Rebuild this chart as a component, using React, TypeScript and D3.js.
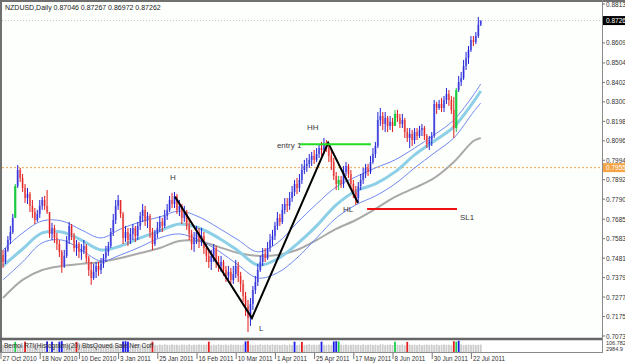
import * as d3 from "d3";

// NZDUSD daily, prices in pips (1e-4)
const firstOpen = 7498;
const closePips = [
  7461, 7524, 7576, 7618, 7692, 7859, 7943, 7901, 7849, 7796, 7817, 7755, 7723, 7681, 7713, 7755,
  7786, 7755, 7723, 7608, 7639, 7587, 7555, 7514, 7440, 7493, 7576, 7650, 7597, 7534, 7555, 7514,
  7524, 7545, 7482, 7419, 7377, 7409, 7440, 7419, 7451, 7482, 7514, 7545, 7618, 7681, 7755, 7786,
  7713, 7587, 7618, 7576, 7608, 7639, 7597, 7650, 7702, 7734, 7681, 7702, 7618, 7555, 7608, 7639,
  7671, 7650, 7702, 7734, 7786, 7765, 7807, 7734, 7755, 7692, 7723, 7650, 7608, 7555, 7587, 7618,
  7576, 7597, 7534, 7493, 7461, 7493, 7534, 7461, 7440, 7461, 7419, 7388, 7409, 7367, 7398, 7440,
  7388, 7346, 7283, 7231, 7168, 7241, 7314, 7356, 7419, 7461, 7503, 7482, 7534, 7576, 7597, 7650,
  7692, 7671, 7734, 7765, 7755, 7796, 7828, 7870, 7849, 7891, 7943, 7964, 7975, 7996, 8017, 7996,
  8027, 8058, 8048, 8079, 8058, 8017, 7985, 7912, 7870, 7891, 7870, 7933, 7964, 7922, 7870, 7828,
  7796, 7859, 7891, 7922, 7954, 7933, 7985, 8027, 8069, 8205, 8226, 8184, 8216, 8174, 8195, 8174,
  8237, 8216, 8184, 8205, 8142, 8111, 8132, 8100, 8142, 8121, 8153, 8163, 8121, 8079, 8100, 8121,
  8289, 8268, 8289, 8268, 8310, 8341, 8310, 8258, 8163, 8362, 8404, 8425, 8488, 8530, 8572, 8624,
  8614, 8645, 8704.6, 8726.2,
];
const highPips = [
  7524, 7534, 7597, 7650, 7713, 7870, 7969, 7954, 7922, 7870, 7849, 7828, 7786, 7744, 7734, 7786,
  7802, 7807, 7838, 7723, 7666, 7655, 7613, 7576, 7524, 7524, 7597, 7671, 7660, 7613, 7576, 7566,
  7555, 7576, 7555, 7493, 7461, 7451, 7461, 7461, 7482, 7503, 7545, 7566, 7639, 7713, 7786, 7812,
  7786, 7723, 7650, 7639, 7639, 7660, 7650, 7671, 7723, 7765, 7755, 7723, 7713, 7639, 7629, 7671,
  7702, 7692, 7734, 7765, 7807, 7823, 7828, 7817, 7786, 7765, 7755, 7734, 7681, 7629, 7618, 7650,
  7639, 7639, 7618, 7555, 7524, 7524, 7555, 7545, 7493, 7493, 7472, 7440, 7440, 7430, 7440, 7472,
  7461, 7409, 7367, 7304, 7262, 7272, 7335, 7388, 7451, 7493, 7534, 7534, 7566, 7608, 7629, 7671,
  7723, 7713, 7765, 7796, 7796, 7828, 7859, 7891, 7901, 7922, 7975, 7996, 8006, 8027, 8038, 8048,
  8058, 8079, 8090, 8111, 8100, 8079, 8048, 8006, 7933, 7912, 7912, 7964, 7985, 7975, 7943, 7891,
  7859, 7880, 7922, 7954, 7975, 7975, 8017, 8058, 8090, 8247, 8268, 8247, 8247, 8226, 8226, 8216,
  8258, 8258, 8237, 8237, 8216, 8163, 8163, 8153, 8163, 8163, 8174, 8184, 8174, 8132, 8121, 8142,
  8310, 8300, 8310, 8321, 8331, 8373, 8362, 8331, 8326, 8373, 8436, 8457, 8520, 8562, 8593, 8645,
  8645, 8666, 8745, 8726.7,
];
const lowPips = [
  7430, 7451, 7514, 7555, 7608, 7692, 7849, 7880, 7828, 7770, 7765, 7723, 7692, 7660, 7671, 7692,
  7734, 7734, 7713, 7587, 7576, 7561, 7524, 7487, 7404, 7430, 7482, 7555, 7576, 7514, 7493, 7482,
  7472, 7503, 7456, 7388, 7341, 7367, 7377, 7388, 7398, 7430, 7461, 7493, 7534, 7597, 7660, 7734,
  7692, 7555, 7566, 7545, 7555, 7576, 7566, 7576, 7629, 7671, 7650, 7639, 7587, 7524, 7545, 7587,
  7618, 7618, 7639, 7681, 7723, 7744, 7744, 7713, 7702, 7660, 7671, 7629, 7576, 7524, 7514, 7555,
  7534, 7545, 7503, 7461, 7430, 7419, 7461, 7430, 7409, 7409, 7388, 7356, 7367, 7346, 7346, 7377,
  7356, 7304, 7252, 7178, 7094, 7126, 7210, 7293, 7335, 7409, 7440, 7461, 7472, 7514, 7545, 7576,
  7629, 7650, 7660, 7713, 7723, 7734, 7776, 7807, 7817, 7828, 7870, 7922, 7933, 7954, 7964, 7975,
  7985, 8006, 8017, 8027, 8038, 7985, 7943, 7891, 7838, 7838, 7849, 7849, 7912, 7901, 7849, 7796,
  7760, 7776, 7838, 7870, 7901, 7912, 7922, 7975, 8006, 8058, 8174, 8153, 8142, 8142, 8153, 8142,
  8174, 8195, 8163, 8163, 8111, 8090, 8058, 8069, 8079, 8100, 8111, 8121, 8100, 8058, 8048, 8069,
  8111, 8237, 8258, 8247, 8247, 8289, 8279, 8237, 8111, 8142, 8352, 8383, 8415, 8467, 8499, 8562,
  8593, 8603, 8635, 8697.2,
];
const greenBars = [5, 137, 160, 185];

// moving averages, read every 8 bars
const maBars = [0, 8, 16, 24, 32, 40, 48, 56, 64, 72, 80, 88, 96, 104, 112, 120, 128, 136, 144, 152, 160, 168, 176, 184, 192, 195];
const upperBand = [7524, 7613, 7676, 7676, 7629, 7587, 7634, 7671, 7697, 7728, 7697, 7639, 7576, 7514, 7561, 7666, 7765, 7854, 7907, 7954, 7996, 8058, 8127, 8205, 8336, 8394];
const midMA = [7440, 7529, 7613, 7618, 7576, 7524, 7545, 7587, 7624, 7660, 7639, 7587, 7519, 7445, 7477, 7555, 7650, 7760, 7833, 7870, 7933, 8022, 8095, 8169, 8300, 8357];
const lowerBand = [7367, 7461, 7561, 7576, 7524, 7466, 7498, 7540, 7587, 7608, 7576, 7519, 7445, 7377, 7404, 7482, 7587, 7692, 7760, 7807, 7870, 7954, 8032, 8111, 8247, 8294];
const slowMA = [7272, 7367, 7419, 7440, 7451, 7461, 7482, 7508, 7534, 7571, 7571, 7540, 7508, 7493, 7498, 7524, 7576, 7634, 7681, 7739, 7802, 7849, 7901, 7985, 8095, 8111];

// lower window histogram
const volume = [
  60, 57, 66, 62, 58, 84, 64, 60, 57, 86, 62, 55, 66, 60, 57, 64,
  58, 63, 88, 61, 86, 57, 62, 86, 90, 60, 58, 62, 57, 63, 84, 60,
  64, 58, 55, 62, 57, 66, 60, 56, 63, 58, 61, 57, 64, 59, 56, 62,
  60, 88, 90, 86, 56, 62, 59, 64, 60, 57, 63, 58, 61, 86, 60, 55,
  62, 58, 64, 60, 57, 63, 59, 61, 56, 62, 60, 58, 64, 57, 61, 59,
  63, 58, 60, 62, 86, 57, 61, 59, 64, 60, 58, 62, 57, 63, 59, 61,
  60, 58, 63, 88, 92, 62, 57, 61, 59, 64, 58, 60, 62, 57, 63, 59,
  61, 58, 60, 62, 57, 63, 59, 86, 58, 62, 84, 57, 60, 64, 59, 61,
  58, 63, 86, 60, 57, 62, 59, 88, 90, 88, 61, 58, 63, 57, 60, 62,
  59, 61, 58, 63, 57, 60, 62, 59, 61, 58, 64, 63, 57, 60, 62, 58,
  86, 61, 58, 63, 57, 84, 62, 59, 61, 58, 63, 57, 60, 62, 59, 61,
  58, 63, 57, 60, 62, 59, 61, 58, 90, 86, 94, 63, 57, 60, 62, 59,
  61, 58, 60, 62,
];
const volRed = [9, 30, 61, 84, 100, 122, 165, 184];
const volBlue = [18, 20, 23, 24, 49, 50, 51, 99, 119, 130, 135, 136, 186];
const volGreen = [5, 137, 160, 185];

// 0.87110 sits under the bid box in the original, so it is left out
const yTicks = [0.8813, 0.8609, 0.8504, 0.8402, 0.83, 0.8198, 0.8096, 0.7994, 0.7892, 0.779, 0.7685, 0.7583, 0.7481, 0.7379, 0.7277, 0.7175, 0.7073];
const dateLabels = ["27 Oct 2010", "18 Nov 2010", "10 Dec 2010", "3 Jan 2011", "25 Jan 2011", "16 Feb 2011", "10 Mar 2011", "1 Apr 2011", "25 Apr 2011", "17 May 2011", "8 Jun 2011", "30 Jun 2011", "22 Jul 2011"];

const trendPoints: [number, number][] = [[70.2, 0.7803], [101.6, 0.7167], [132.7, 0.8085], [144.9, 0.777]];
const entryLevel = { from: 121.2, to: 150.2, price: 0.8078 };
const stopLevel = { from: 148.6, to: 185.3, price: 0.7739 };
const notes = [
  { text: "H", bar: 68.2, price: 0.7891 },
  { text: "HH", bar: 124.1, price: 0.8153 },
  { text: "entry 1", bar: 111.8, price: 0.8058 },
  { text: "HL", bar: 138.8, price: 0.7723 },
  { text: "SL1", bar: 186.5, price: 0.7681 },
  { text: "L", bar: 104.5, price: 0.7099 },
];
const bidPrice = 0.87262;
const markPrice = 0.79553;
const header = "NZDUSD,Daily  0.87046 0.87267 0.86972 0.87262";

const FONT = "Liberation Sans, Arial, sans-serif";

export default function App() {
  const x = d3.scaleLinear().domain([0, 195]).range([3, 480.75]);
  const y = d3.scaleLinear().domain([0.7073, 0.8813]).range([336, 4]);
  const v = d3.scaleLinear().domain([0, 100]).range([352, 340]);

  const bars = closePips.map((c, i) => ({
    i,
    o: (i === 0 ? firstOpen : closePips[i - 1]) / 1e4,
    c: c / 1e4,
    h: highPips[i] / 1e4,
    l: lowPips[i] / 1e4,
  }));

  const maLine = d3
    .line<number>()
    .x((_, k) => x(maBars[k]))
    .y((p) => y(p / 1e4))
    .curve(d3.curveCatmullRom);

  const trend = d3
    .line<[number, number]>()
    .x((d) => x(d[0]))
    .y((d) => y(d[1]));

  const volColor = (i: number) =>
    volGreen.includes(i) ? "#1ccf4a" : volRed.includes(i) ? "#e81c1c" : volBlue.includes(i) ? "#1c1ce8" : "#cccccc";

  return (
    <div style={{ position: "fixed", left: 0, top: 0 }}>
      <svg width={625} height={363} style={{ display: "block", fontFamily: FONT }}>
        <rect x={0} y={0} width={625} height={363} fill="#ffffff" />
        <rect x={2} y={2} width={600} height={336} fill="#fdfffd" />

        {/* bid line and marker level */}
        <line x1={2} x2={602} y1={y(bidPrice)} y2={y(bidPrice)} stroke="#c4c4c4" strokeDasharray="1,2" />
        <line x1={2} x2={602} y1={y(markPrice)} y2={y(markPrice)} stroke="#f3a550" strokeDasharray="2,2" />

        {/* moving averages */}
        <path d={maLine(slowMA) ?? ""} fill="none" stroke="#a9a9a9" strokeWidth={2} />
        <path d={maLine(upperBand) ?? ""} fill="none" stroke="#7088ee" strokeWidth={1} />
        <path d={maLine(lowerBand) ?? ""} fill="none" stroke="#7088ee" strokeWidth={1} />
        <path d={maLine(midMA) ?? ""} fill="none" stroke="#8ccfe6" strokeWidth={3} />

        {/* candles */}
        {bars.map((b) => {
          const cx = x(b.i);
          const green = greenBars.includes(b.i);
          const up = b.c >= b.o;
          const wick = green ? "#18c840" : up ? "#2222d6" : "#e21a1a";
          const body = green ? "#22d04a" : up ? "#9494ee" : "#f2a0a0";
          const top = y(Math.max(b.o, b.c));
          const hgt = Math.max(1, Math.abs(y(b.o) - y(b.c)));
          return (
            <g key={b.i}>
              <rect x={cx - 1.1} y={top} width={2.2} height={hgt} fill={body} />
              <line x1={cx} x2={cx} y1={y(b.h)} y2={y(b.l)} stroke={wick} strokeWidth={1} />
            </g>
          );
        })}

        {/* trend lines and levels */}
        <path d={trend(trendPoints) ?? ""} fill="none" stroke="#000" strokeWidth={2} />
        <line x1={x(entryLevel.from)} x2={x(entryLevel.to)} y1={y(entryLevel.price)} y2={y(entryLevel.price)} stroke="#22dd22" strokeWidth={2} />
        <line x1={x(stopLevel.from)} x2={x(stopLevel.to)} y1={y(stopLevel.price)} y2={y(stopLevel.price)} stroke="#ee1111" strokeWidth={2} />

        {notes.map((n) => (
          <text key={n.text} x={x(n.bar)} y={y(n.price)} fontSize={8} fill="#3a3a3a">
            {n.text}
          </text>
        ))}

        <text x={5} y={10} fontSize={7} fill="#222">{header}</text>

        {/* lower window */}
        {volume.map((val, i) => (
          <rect key={i} x={x(i) - 0.9} y={v(val)} width={1.8} height={352 - v(val)} fill={volColor(i)} />
        ))}
        <text x={4} y={348} fontSize={6.5} fill="#333">Bemol RTI(Histogram)(20) BbsQoued Sale Ner Coff</text>

        {/* frames */}
        <line x1={0} x2={625} y1={1} y2={1} stroke="#707070" strokeWidth={2} />
        <line x1={1} x2={1} y1={0} y2={353} stroke="#707070" strokeWidth={2} />
        <line x1={0} x2={603} y1={339} y2={339} stroke="#666" strokeWidth={2.5} />
        <line x1={0} x2={603} y1={352.5} y2={352.5} stroke="#8a8a8a" strokeWidth={1} />
        <line x1={602.5} x2={602.5} y1={0} y2={353} stroke="#8a8a8a" strokeWidth={1} />

        {/* price axis */}
        {yTicks.map((t) => (
          <g key={t}>
            <line x1={602} x2={605} y1={y(t)} y2={y(t)} stroke="#777" />
            <text x={606} y={y(t) + 2.5} fontSize={6.5} fill="#333">{t.toFixed(5)}</text>
          </g>
        ))}
        <rect x={603} y={y(bidPrice) - 4.5} width={22} height={9} fill="#000" />
        <text x={606} y={y(bidPrice) + 2.5} fontSize={6.5} fill="#fff">{bidPrice.toFixed(5)}</text>
        <rect x={603} y={y(markPrice) - 4.5} width={22} height={9} fill="#f5a446" />
        <text x={606} y={y(markPrice) + 2.5} fontSize={6.5} fill="#fff">{markPrice.toFixed(5)}</text>
        <text x={606} y={345} fontSize={5.5} fill="#333">106.782</text>
        <text x={606} y={351} fontSize={5.5} fill="#333">2984.9</text>

        {/* date axis */}
        {dateLabels.map((d, k) => (
          <g key={d}>
            <line x1={x(k * 16) - 2} x2={x(k * 16) - 2} y1={353} y2={359} stroke="#777" />
            <text x={x(k * 16) - 0.5} y={361} fontSize={6.3} fill="#333">{d}</text>
          </g>
        ))}
      </svg>
    </div>
  );
}
